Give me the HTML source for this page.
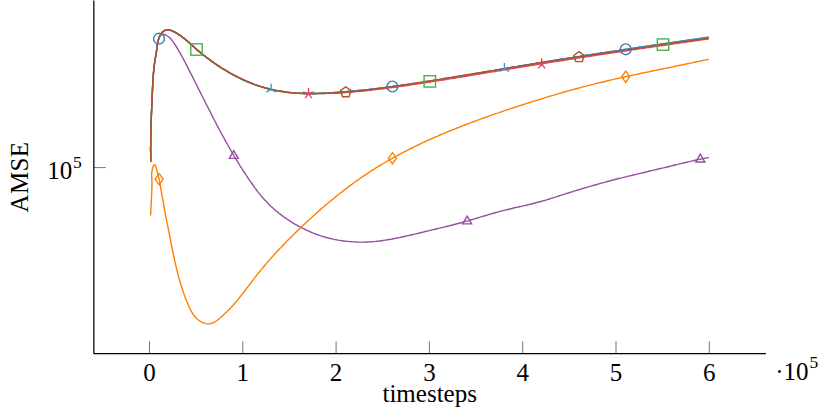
<!DOCTYPE html>
<html><head><meta charset="utf-8"><title>AMSE</title>
<style>
html,body{margin:0;padding:0;background:#fff;}
body{width:830px;height:417px;position:relative;overflow:hidden;font-family:"Liberation Serif",serif;color:#000;}
.t{position:absolute;font-size:25px;line-height:25px;white-space:nowrap;}
.c{transform:translateX(-50%);}
.sup{position:absolute;font-size:17.5px;line-height:17.5px;white-space:nowrap;}
</style></head><body>
<svg width="830" height="417" viewBox="0 0 830 417" style="position:absolute;left:0;top:0">
<line x1="149.5" y1="341.3" x2="149.5" y2="353.5" stroke="#505050" stroke-width="0.8"/>
<line x1="242.8" y1="341.3" x2="242.8" y2="353.5" stroke="#505050" stroke-width="0.8"/>
<line x1="336.1" y1="341.3" x2="336.1" y2="353.5" stroke="#505050" stroke-width="0.8"/>
<line x1="429.4" y1="341.3" x2="429.4" y2="353.5" stroke="#505050" stroke-width="0.8"/>
<line x1="522.7" y1="341.3" x2="522.7" y2="353.5" stroke="#505050" stroke-width="0.8"/>
<line x1="616.0" y1="341.3" x2="616.0" y2="353.5" stroke="#505050" stroke-width="0.8"/>
<line x1="709.3" y1="341.3" x2="709.3" y2="353.5" stroke="#505050" stroke-width="0.8"/>
<line x1="93.85" y1="167.6" x2="105.9" y2="167.6" stroke="#505050" stroke-width="0.8"/>
<path d="M93.85 0.5V353.5H765.9" fill="none" stroke="#000" stroke-width="1.25" stroke-linejoin="round"/>
<path d="M157.4 44.8L157.8 42.8L158.2 40.8L158.7 38.9L159.5 37.0L160.6 35.2L162.1 34.2L163.9 34.3L165.8 35.0L167.5 36.0L169.1 37.2L170.5 38.5L171.8 40.1L173.0 41.7L174.1 43.3L175.2 45.0L176.3 46.7L177.4 48.4L178.4 50.1L179.4 51.9L180.4 53.6L181.4 55.3L182.3 57.1L183.3 58.8L184.2 60.6L185.1 62.3L186.0 64.1L186.9 65.8L187.8 67.6L188.7 69.4L189.6 71.1L190.5 72.9L191.4 74.7L192.3 76.4L193.2 78.2L194.1 80.0L195.0 81.8L195.9 83.5L196.8 85.3L197.7 87.1L198.5 88.9L199.4 90.6L200.3 92.4L201.2 94.2L202.1 96.0L203.0 97.7L203.9 99.5L204.8 101.3L205.7 103.1L206.6 104.8L207.5 106.6L208.4 108.4L209.3 110.2L210.2 111.9L211.1 113.7L212.0 115.5L212.9 117.2L213.8 119.0L214.7 120.8L215.6 122.5L216.5 124.3L217.5 126.1L218.4 127.8L219.3 129.6L220.3 131.3L221.2 133.1L222.2 134.8L223.1 136.6L224.1 138.3L225.0 140.1L226.0 141.8L227.0 143.5L227.9 145.3L228.9 147.0L229.9 148.7L230.9 150.5L231.9 152.2L232.9 153.9L233.9 155.6L234.9 157.3L235.9 159.0L237.0 160.7L238.0 162.4L239.1 164.1L240.1 165.8L241.2 167.5L242.2 169.2L243.3 170.8L244.4 172.5L245.5 174.2L246.6 175.8L247.7 177.5L248.8 179.1L249.9 180.8L251.1 182.4L252.2 184.0L253.4 185.7L254.5 187.3L255.7 188.9L256.9 190.5L258.1 192.1L259.4 193.6L260.6 195.2L261.9 196.7L263.2 198.2L264.5 199.7L265.8 201.1L267.2 202.6L268.6 204.0L270.0 205.4L271.4 206.7L272.9 208.1L274.3 209.4L275.8 210.7L277.4 211.9L278.9 213.2L280.5 214.4L282.1 215.6L283.7 216.8L285.3 217.9L286.9 219.0L288.6 220.1L290.2 221.2L291.9 222.3L293.6 223.3L295.3 224.3L297.1 225.3L298.8 226.3L300.6 227.2L302.4 228.1L304.1 229.0L305.9 229.9L307.7 230.7L309.6 231.5L311.4 232.3L313.2 233.1L315.1 233.8L317.0 234.5L318.8 235.1L320.7 235.8L322.6 236.4L324.5 237.0L326.4 237.5L328.4 238.0L330.3 238.5L332.2 238.9L334.2 239.4L336.1 239.7L338.1 240.1L340.0 240.4L342.0 240.7L344.0 241.0L345.9 241.2L347.9 241.4L349.9 241.6L351.9 241.8L353.9 241.9L355.8 242.0L357.8 242.1L359.8 242.1L361.8 242.1L363.8 242.1L365.8 242.0L367.8 242.0L369.7 241.9L371.7 241.7L373.7 241.6L375.7 241.4L377.6 241.2L379.6 241.0L381.6 240.7L383.5 240.4L385.5 240.1L387.5 239.8L389.4 239.5L391.4 239.2L393.3 238.8L395.3 238.4L397.2 238.0L399.2 237.6L401.1 237.2L403.1 236.8L405.0 236.3L406.9 235.9L408.9 235.5L410.8 235.0L412.8 234.5L414.7 234.1L416.6 233.6L418.6 233.2L420.5 232.7L422.5 232.2L424.4 231.8L426.3 231.3L428.3 230.9L430.2 230.4L432.1 229.9L434.1 229.5L436.0 229.0L437.9 228.5L439.8 228.1L441.8 227.6L443.7 227.1L445.6 226.7L447.6 226.2L449.5 225.7L451.4 225.2L453.3 224.7L455.2 224.2L457.2 223.7L459.1 223.2L461.0 222.7L462.9 222.2L464.8 221.6L466.7 221.1L468.6 220.6L470.6 220.0L472.5 219.5L474.4 218.9L476.3 218.3L478.2 217.8L480.1 217.2L482.0 216.6L483.9 216.0L485.8 215.5L487.7 214.9L489.6 214.3L491.5 213.8L493.4 213.2L495.3 212.7L497.3 212.2L499.2 211.6L501.1 211.1L503.0 210.6L505.0 210.1L506.9 209.7L508.8 209.2L510.7 208.7L512.7 208.3L514.6 207.8L516.6 207.4L518.5 207.0L520.4 206.5L522.4 206.1L524.3 205.6L526.3 205.2L528.2 204.7L530.1 204.3L532.1 203.8L534.0 203.3L535.9 202.8L537.8 202.3L539.7 201.8L541.7 201.3L543.6 200.7L545.5 200.2L547.4 199.6L549.3 199.0L551.2 198.4L553.1 197.8L555.0 197.2L556.9 196.6L558.7 196.0L560.6 195.4L562.5 194.8L564.4 194.2L566.3 193.6L568.2 193.0L570.1 192.4L572.0 191.8L573.9 191.2L575.8 190.6L577.7 190.0L579.6 189.5L581.5 188.9L583.4 188.3L585.3 187.8L587.2 187.2L589.1 186.6L591.0 186.1L593.0 185.5L594.9 185.0L596.8 184.5L598.7 183.9L600.6 183.4L602.5 182.9L604.4 182.4L606.4 181.8L608.3 181.3L610.2 180.8L612.1 180.3L614.0 179.8L616.0 179.3L617.9 178.8L619.8 178.3L621.7 177.9L623.7 177.4L625.6 176.9L627.5 176.4L629.5 175.9L631.4 175.5L633.3 175.0L635.3 174.5L637.2 174.1L639.1 173.6L641.1 173.1L643.0 172.7L644.9 172.2L646.9 171.8L648.8 171.3L650.7 170.8L652.7 170.4L654.6 169.9L656.5 169.5L658.5 169.0L660.4 168.5L662.3 168.1L664.3 167.6L666.2 167.2L668.1 166.7L670.1 166.2L672.0 165.8L673.9 165.3L675.9 164.8L677.8 164.4L679.7 163.9L681.6 163.4L683.6 163.0L685.5 162.5L687.4 162.0L689.4 161.6L691.3 161.1L693.2 160.7L695.2 160.2L697.1 159.8L699.1 159.4L701.0 159.0L703.0 158.6L704.9 158.2L706.9 157.9L708.8 157.5" fill="none" stroke="#984ea3" stroke-width="1.4" stroke-linejoin="round"/>
<path d="M150.8 161.7L150.7 159.3L150.7 157.0L150.7 154.6L150.7 152.3L150.6 150.0L150.6 147.6L150.7 145.3L150.7 142.9L150.7 140.6L150.7 138.3L150.8 135.9L150.8 133.6L150.9 131.2L151.0 128.9L151.0 126.6L151.1 124.2L151.2 121.9L151.3 119.6L151.3 117.2L151.4 114.9L151.5 112.6L151.6 110.2L151.7 107.9L151.8 105.6L151.9 103.2L152.0 100.9L152.1 98.6L152.2 96.2L152.3 93.9L152.4 91.5L152.5 89.2L152.6 86.8L152.7 84.5L152.8 82.1L153.0 79.8L153.1 77.4L153.3 75.1L153.5 72.8L153.7 70.5L153.9 68.1L154.2 65.8L154.5 63.5L154.9 61.2L155.2 58.9L155.6 56.6L156.0 54.3L156.4 52.0L156.7 49.7L157.0 47.4L157.3 45.0L157.7 42.7L158.2 40.4L158.9 38.1L159.8 36.0L160.9 33.9L162.4 32.1L164.3 30.7L166.4 29.9L168.7 29.9L171.0 30.4L173.2 31.3L175.3 32.4L177.4 33.6L179.3 34.9L181.3 36.3L183.1 37.7L185.0 39.1L186.8 40.6L188.5 42.1L190.3 43.7L192.0 45.3L193.7 46.8L195.5 48.4L197.2 49.9L199.0 51.4L200.8 52.9L202.6 54.4L204.5 55.9L206.3 57.3L208.2 58.7L210.1 60.1L212.0 61.5L213.9 62.8L215.8 64.2L217.8 65.5L219.7 66.8L221.7 68.1L223.7 69.3L225.7 70.5L227.7 71.7L229.7 72.9L231.8 74.0L233.8 75.2L235.9 76.2L238.0 77.3L240.1 78.3L242.2 79.3L244.3 80.3L246.4 81.3L248.6 82.2L250.7 83.0L252.9 83.9L255.1 84.7L257.3 85.5L259.5 86.2L261.8 86.9L264.0 87.6L266.3 88.2L268.5 88.8L270.8 89.4L273.1 89.9L275.4 90.4L277.7 90.8L280.0 91.2L282.3 91.6L284.7 91.9L287.0 92.3L289.3 92.5L291.7 92.8L294.0 93.0L296.3 93.2L298.7 93.3L301.0 93.4L303.3 93.5L305.7 93.5L308.0 93.5L310.4 93.5L312.7 93.5L315.0 93.4L317.4 93.4L319.7 93.3L322.0 93.2L324.4 93.1L326.7 93.0L329.0 92.8L331.4 92.7L333.7 92.5L336.0 92.4L338.4 92.2L340.7 92.0L343.0 91.8L345.4 91.6L347.7 91.4L350.0 91.2L352.4 91.0L354.7 90.8L357.0 90.6L359.3 90.3L361.7 90.1L364.0 89.9L366.3 89.6L368.6 89.4L371.0 89.1L373.3 88.9L375.6 88.6L377.9 88.4L380.3 88.1L382.6 87.8L384.9 87.5L387.2 87.2L389.5 86.9L391.9 86.6L394.2 86.3L396.5 86.0L398.8 85.7L401.1 85.4L403.5 85.0L405.8 84.7L408.1 84.4L410.4 84.1L412.7 83.7L415.0 83.4L417.4 83.1L419.7 82.7L422.0 82.4L424.3 82.0L426.6 81.7L428.9 81.3L431.2 81.0L433.5 80.6L435.9 80.3L438.2 79.9L440.5 79.6L442.8 79.2L445.1 78.9L447.4 78.5L449.7 78.1L452.0 77.7L454.3 77.3L456.6 77.0L459.0 76.6L461.3 76.2L463.6 75.8L465.9 75.4L468.2 75.0L470.5 74.6L472.8 74.2L475.1 73.8L477.4 73.4L479.7 73.0L482.0 72.6L484.3 72.2L486.6 71.8L488.9 71.4L491.2 71.0L493.6 70.6L495.9 70.2L498.2 69.8L500.5 69.4L502.8 69.0L505.1 68.6L507.4 68.2L509.7 67.8L512.0 67.4L514.3 67.0L516.6 66.6L518.9 66.2L521.2 65.8L523.6 65.4L525.9 65.0L528.2 64.6L530.5 64.2L532.8 63.8L535.1 63.5L537.4 63.1L539.7 62.7L542.0 62.3L544.3 61.9L546.7 61.5L549.0 61.2L551.3 60.8L553.6 60.4L555.9 60.0L558.2 59.7L560.5 59.3L562.8 58.9L565.1 58.6L567.5 58.2L569.8 57.8L572.1 57.5L574.4 57.1L576.7 56.7L579.0 56.4L581.3 56.0L583.6 55.7L586.0 55.3L588.3 54.9L590.6 54.6L592.9 54.2L595.2 53.9L597.5 53.5L599.8 53.2L602.2 52.8L604.5 52.5L606.8 52.1L609.1 51.8L611.4 51.4L613.7 51.1L616.1 50.7L618.4 50.4L620.7 50.0L623.0 49.7L625.3 49.3L627.6 49.0L629.9 48.6L632.3 48.3L634.6 47.9L636.9 47.6L639.2 47.2L641.5 46.9L643.8 46.6L646.2 46.2L648.5 45.9L650.8 45.5L653.1 45.2L655.4 44.9L657.7 44.5L660.1 44.2L662.4 43.8L664.7 43.5L667.0 43.2L669.3 42.8L671.6 42.5L673.9 42.2L676.3 41.8L678.6 41.5L680.9 41.1L683.2 40.8L685.5 40.5L687.8 40.1L690.2 39.8L692.5 39.5L694.8 39.1L697.1 38.8L699.4 38.5L701.7 38.1L704.1 37.8L706.4 37.5L708.7 37.2" fill="none" stroke="#377eb8" stroke-width="1.4" stroke-linejoin="round"/>
<path d="M150.8 161.9L150.7 159.5L150.7 157.2L150.7 154.8L150.7 152.5L150.6 150.2L150.6 147.8L150.7 145.5L150.7 143.1L150.7 140.8L150.7 138.5L150.8 136.1L150.8 133.8L150.9 131.4L151.0 129.1L151.0 126.8L151.1 124.4L151.2 122.1L151.3 119.8L151.3 117.4L151.4 115.1L151.5 112.8L151.6 110.4L151.7 108.1L151.8 105.8L151.9 103.4L152.0 101.1L152.1 98.8L152.2 96.4L152.3 94.1L152.4 91.7L152.5 89.4L152.6 87.0L152.7 84.7L152.8 82.3L153.0 80.0L153.1 77.6L153.3 75.3L153.5 73.0L153.7 70.7L153.9 68.3L154.2 66.0L154.5 63.7L154.9 61.4L155.2 59.1L155.6 56.8L156.0 54.5L156.4 52.2L156.7 49.9L157.0 47.5L157.3 45.2L157.7 42.9L158.2 40.6L158.9 38.3L159.8 36.2L160.9 34.1L162.4 32.3L164.3 30.9L166.4 30.1L168.7 30.0L171.0 30.6L173.2 31.5L175.3 32.6L177.4 33.8L179.3 35.1L181.3 36.4L183.1 37.8L185.0 39.3L186.8 40.8L188.5 42.3L190.3 43.9L192.0 45.4L193.7 47.0L195.5 48.6L197.2 50.1L199.0 51.6L200.8 53.1L202.6 54.6L204.5 56.0L206.3 57.5L208.2 58.9L210.1 60.3L212.0 61.7L213.9 63.0L215.8 64.3L217.8 65.6L219.7 66.9L221.7 68.2L223.7 69.4L225.7 70.7L227.7 71.9L229.7 73.0L231.8 74.2L233.8 75.3L235.9 76.4L238.0 77.4L240.1 78.5L242.2 79.5L244.3 80.5L246.4 81.4L248.6 82.3L250.7 83.2L252.9 84.0L255.1 84.8L257.3 85.6L259.5 86.3L261.8 87.0L264.0 87.7L266.3 88.3L268.5 88.9L270.8 89.5L273.1 90.0L275.4 90.5L277.7 90.9L280.0 91.3L282.3 91.7L284.7 92.1L287.0 92.4L289.3 92.6L291.7 92.9L294.0 93.1L296.3 93.3L298.7 93.4L301.0 93.5L303.3 93.6L305.7 93.7L308.0 93.7L310.4 93.8L312.7 93.7L315.0 93.7L317.4 93.7L319.7 93.6L322.0 93.6L324.4 93.5L326.7 93.4L329.0 93.3L331.4 93.1L333.7 93.0L336.0 92.9L338.4 92.7L340.7 92.6L343.0 92.4L345.4 92.2L347.7 92.0L350.0 91.9L352.4 91.6L354.7 91.4L357.0 91.2L359.3 91.0L361.7 90.7L364.0 90.5L366.3 90.2L368.6 90.0L371.0 89.7L373.3 89.4L375.6 89.2L377.9 88.9L380.3 88.6L382.6 88.3L384.9 88.0L387.2 87.7L389.5 87.4L391.9 87.1L394.2 86.7L396.5 86.4L398.8 86.1L401.1 85.8L403.5 85.4L405.8 85.1L408.1 84.7L410.4 84.4L412.7 84.1L415.0 83.7L417.4 83.3L419.7 83.0L422.0 82.6L424.3 82.3L426.6 81.9L428.9 81.6L431.2 81.2L433.5 80.8L435.9 80.5L438.2 80.1L440.5 79.7L442.8 79.4L445.1 79.0L447.4 78.6L449.7 78.2L452.0 77.9L454.3 77.5L456.6 77.1L459.0 76.7L461.3 76.3L463.6 75.9L465.9 75.5L468.2 75.2L470.5 74.8L472.8 74.4L475.1 74.0L477.4 73.6L479.7 73.2L482.0 72.8L484.3 72.4L486.6 72.0L488.9 71.7L491.2 71.3L493.6 70.9L495.9 70.5L498.2 70.1L500.5 69.7L502.8 69.3L505.1 68.9L507.4 68.5L509.7 68.2L512.0 67.8L514.3 67.4L516.6 67.0L518.9 66.6L521.2 66.2L523.6 65.9L525.9 65.5L528.2 65.1L530.5 64.7L532.8 64.4L535.1 64.0L537.4 63.6L539.7 63.2L542.0 62.9L544.3 62.5L546.7 62.1L549.0 61.7L551.3 61.4L553.6 61.0L555.9 60.6L558.2 60.3L560.5 59.9L562.8 59.6L565.1 59.2L567.5 58.8L569.8 58.5L572.1 58.1L574.4 57.8L576.7 57.4L579.0 57.0L581.3 56.7L583.6 56.3L586.0 56.0L588.3 55.6L590.6 55.3L592.9 54.9L595.2 54.6L597.5 54.2L599.8 53.9L602.2 53.5L604.5 53.2L606.8 52.8L609.1 52.5L611.4 52.1L613.7 51.8L616.1 51.4L618.4 51.1L620.7 50.8L623.0 50.4L625.3 50.1L627.6 49.7L629.9 49.4L632.3 49.0L634.6 48.7L636.9 48.4L639.2 48.0L641.5 47.7L643.8 47.3L646.2 47.0L648.5 46.7L650.8 46.3L653.1 46.0L655.4 45.7L657.7 45.3L660.1 45.0L662.4 44.7L664.7 44.3L667.0 44.0L669.3 43.7L671.6 43.3L673.9 43.0L676.3 42.7L678.6 42.3L680.9 42.0L683.2 41.7L685.5 41.3L687.8 41.0L690.2 40.7L692.5 40.4L694.8 40.0L697.1 39.7L699.4 39.4L701.7 39.0L704.1 38.7L706.4 38.4L708.7 38.1" fill="none" stroke="#4daf4a" stroke-width="1.4" stroke-linejoin="round"/>
<path d="M150.8 161.7L150.7 159.3L150.7 157.0L150.7 154.6L150.7 152.3L150.6 150.0L150.6 147.6L150.7 145.3L150.7 142.9L150.7 140.6L150.7 138.3L150.8 135.9L150.8 133.6L150.9 131.2L151.0 128.9L151.0 126.6L151.1 124.2L151.2 121.9L151.3 119.6L151.3 117.2L151.4 114.9L151.5 112.6L151.6 110.2L151.7 107.9L151.8 105.6L151.9 103.2L152.0 100.9L152.1 98.6L152.2 96.2L152.3 93.9L152.4 91.5L152.5 89.2L152.6 86.8L152.7 84.5L152.8 82.1L153.0 79.8L153.1 77.4L153.3 75.1L153.5 72.8L153.7 70.5L153.9 68.1L154.2 65.8L154.5 63.5L154.9 61.2L155.2 58.9L155.6 56.6L156.0 54.3L156.4 52.0L156.7 49.7L157.0 47.4L157.3 45.0L157.7 42.7L158.2 40.4L158.9 38.1L159.8 36.0L160.9 33.9L162.4 32.1L164.3 30.7L166.4 29.9L168.7 29.9L171.0 30.4L173.2 31.3L175.3 32.4L177.4 33.6L179.3 34.9L181.3 36.3L183.1 37.7L185.0 39.1L186.8 40.6L188.5 42.1L190.3 43.7L192.0 45.3L193.7 46.8L195.5 48.4L197.2 49.9L199.0 51.4L200.8 52.9L202.6 54.4L204.5 55.9L206.3 57.3L208.2 58.7L210.1 60.1L212.0 61.5L213.9 62.8L215.8 64.2L217.8 65.5L219.7 66.8L221.7 68.1L223.7 69.3L225.7 70.5L227.7 71.7L229.7 72.9L231.8 74.0L233.8 75.2L235.9 76.2L238.0 77.3L240.1 78.3L242.2 79.3L244.3 80.3L246.4 81.3L248.6 82.2L250.7 83.0L252.9 83.9L255.1 84.7L257.3 85.5L259.5 86.2L261.8 86.9L264.0 87.6L266.3 88.2L268.5 88.8L270.8 89.4L273.1 89.9L275.4 90.4L277.7 90.8L280.0 91.2L282.3 91.6L284.7 91.9L287.0 92.3L289.3 92.5L291.7 92.8L294.0 93.0L296.3 93.2L298.7 93.3L301.0 93.4L303.3 93.5L305.7 93.5L308.0 93.6L310.4 93.5L312.7 93.5L315.0 93.5L317.4 93.4L319.7 93.3L322.0 93.2L324.4 93.1L326.7 93.0L329.0 92.9L331.4 92.7L333.7 92.6L336.0 92.4L338.4 92.3L340.7 92.1L343.0 91.9L345.4 91.7L347.7 91.5L350.0 91.3L352.4 91.1L354.7 90.9L357.0 90.6L359.3 90.4L361.7 90.2L364.0 90.0L366.3 89.7L368.6 89.5L371.0 89.2L373.3 89.0L375.6 88.7L377.9 88.4L380.3 88.1L382.6 87.9L384.9 87.6L387.2 87.3L389.5 87.0L391.9 86.7L394.2 86.4L396.5 86.1L398.8 85.7L401.1 85.4L403.5 85.1L405.8 84.8L408.1 84.4L410.4 84.1L412.7 83.8L415.0 83.4L417.4 83.1L419.7 82.7L422.0 82.4L424.3 82.1L426.6 81.7L428.9 81.4L431.2 81.0L433.5 80.6L435.9 80.3L438.2 79.9L440.5 79.6L442.8 79.2L445.1 78.9L447.4 78.5L449.7 78.1L452.0 77.7L454.3 77.4L456.6 77.0L459.0 76.6L461.3 76.2L463.6 75.8L465.9 75.4L468.2 75.0L470.5 74.6L472.8 74.2L475.1 73.8L477.4 73.4L479.7 73.0L482.0 72.6L484.3 72.2L486.6 71.8L488.9 71.4L491.2 71.0L493.6 70.6L495.9 70.2L498.2 69.8L500.5 69.4L502.8 69.0L505.1 68.6L507.4 68.2L509.7 67.8L512.0 67.4L514.3 67.0L516.6 66.6L518.9 66.3L521.2 65.9L523.6 65.5L525.9 65.1L528.2 64.7L530.5 64.3L532.8 63.9L535.1 63.5L537.4 63.2L539.7 62.8L542.0 62.4L544.3 62.0L546.7 61.6L549.0 61.3L551.3 60.9L553.6 60.5L555.9 60.1L558.2 59.8L560.5 59.4L562.8 59.0L565.1 58.7L567.5 58.3L569.8 57.9L572.1 57.6L574.4 57.2L576.7 56.8L579.0 56.5L581.3 56.1L583.6 55.8L586.0 55.4L588.3 55.0L590.6 54.7L592.9 54.3L595.2 54.0L597.5 53.6L599.8 53.3L602.2 52.9L604.5 52.6L606.8 52.2L609.1 51.9L611.4 51.5L613.7 51.2L616.1 50.8L618.4 50.5L620.7 50.1L623.0 49.8L625.3 49.4L627.6 49.1L629.9 48.7L632.3 48.4L634.6 48.0L636.9 47.7L639.2 47.3L641.5 47.0L643.8 46.7L646.2 46.3L648.5 46.0L650.8 45.6L653.1 45.3L655.4 45.0L657.7 44.6L660.1 44.3L662.4 43.9L664.7 43.6L667.0 43.3L669.3 42.9L671.6 42.6L673.9 42.3L676.3 41.9L678.6 41.6L680.9 41.2L683.2 40.9L685.5 40.6L687.8 40.2L690.2 39.9L692.5 39.6L694.8 39.2L697.1 38.9L699.4 38.6L701.7 38.2L704.1 37.9L706.4 37.6L708.7 37.3" fill="none" stroke="#2f9bd7" stroke-width="1.4" stroke-linejoin="round"/>
<path d="M150.8 161.7L150.7 159.3L150.7 157.0L150.7 154.6L150.7 152.3L150.6 150.0L150.6 147.6L150.7 145.3L150.7 142.9L150.7 140.6L150.7 138.3L150.8 135.9L150.8 133.6L150.9 131.2L151.0 128.9L151.0 126.6L151.1 124.2L151.2 121.9L151.3 119.6L151.3 117.2L151.4 114.9L151.5 112.6L151.6 110.2L151.7 107.9L151.8 105.6L151.9 103.2L152.0 100.9L152.1 98.5L152.2 96.2L152.3 93.9L152.4 91.5L152.5 89.2L152.6 86.8L152.7 84.5L152.8 82.1L153.0 79.8L153.1 77.4L153.3 75.1L153.5 72.8L153.7 70.4L153.9 68.1L154.2 65.8L154.5 63.5L154.9 61.2L155.2 58.9L155.6 56.6L156.0 54.3L156.4 52.0L156.7 49.7L157.0 47.3L157.3 45.0L157.7 42.7L158.2 40.4L158.9 38.1L159.8 36.0L160.9 33.9L162.4 32.0L164.3 30.6L166.4 29.9L168.7 29.8L171.0 30.4L173.2 31.3L175.3 32.4L177.4 33.6L179.3 34.9L181.3 36.2L183.1 37.6L185.0 39.1L186.8 40.6L188.5 42.1L190.3 43.6L192.0 45.2L193.7 46.8L195.5 48.3L197.2 49.9L199.0 51.4L200.8 52.9L202.6 54.4L204.5 55.8L206.3 57.2L208.2 58.6L210.1 60.0L212.0 61.4L213.9 62.8L215.8 64.1L217.8 65.4L219.7 66.7L221.7 68.0L223.7 69.2L225.7 70.4L227.7 71.6L229.7 72.8L231.8 73.9L233.8 75.0L235.9 76.1L238.0 77.2L240.1 78.2L242.2 79.2L244.3 80.2L246.4 81.1L248.6 82.0L250.7 82.9L252.9 83.8L255.1 84.6L257.3 85.3L259.5 86.1L261.8 86.8L264.0 87.4L266.3 88.1L268.5 88.6L270.8 89.2L273.1 89.7L275.4 90.2L277.7 90.6L280.0 91.0L282.3 91.4L284.7 91.8L287.0 92.1L289.3 92.4L291.7 92.6L294.0 92.8L296.3 93.0L298.7 93.1L301.0 93.3L303.3 93.4L305.7 93.5L308.0 93.5L310.4 93.6L312.7 93.6L315.0 93.6L317.4 93.6L319.7 93.6L322.0 93.6L324.4 93.5L326.7 93.4L329.0 93.4L331.4 93.3L333.7 93.2L336.0 93.1L338.4 93.0L340.7 92.8L343.0 92.7L345.4 92.6L347.7 92.4L350.0 92.3L352.4 92.1L354.7 91.8L357.0 91.6L359.3 91.4L361.7 91.2L364.0 90.9L366.3 90.7L368.6 90.4L371.0 90.2L373.3 89.9L375.6 89.6L377.9 89.4L380.3 89.1L382.6 88.8L384.9 88.5L387.2 88.2L389.5 87.9L391.9 87.6L394.2 87.3L396.5 87.0L398.8 86.6L401.1 86.3L403.5 86.0L405.8 85.7L408.1 85.3L410.4 85.0L412.7 84.6L415.0 84.3L417.4 84.0L419.7 83.6L422.0 83.3L424.3 82.9L426.6 82.6L428.9 82.2L431.2 81.8L433.5 81.5L435.9 81.1L438.2 80.8L440.5 80.4L442.8 80.0L445.1 79.7L447.4 79.3L449.7 78.9L452.0 78.6L454.3 78.2L456.6 77.8L459.0 77.4L461.3 77.0L463.6 76.7L465.9 76.3L468.2 75.9L470.5 75.5L472.8 75.1L475.1 74.7L477.4 74.4L479.7 74.0L482.0 73.6L484.3 73.2L486.6 72.8L488.9 72.4L491.2 72.0L493.6 71.7L495.9 71.3L498.2 70.9L500.5 70.5L502.8 70.1L505.1 69.7L507.4 69.4L509.7 69.0L512.0 68.6L514.3 68.2L516.6 67.8L518.9 67.5L521.2 67.1L523.6 66.7L525.9 66.3L528.2 66.0L530.5 65.6L532.8 65.2L535.1 64.8L537.4 64.5L539.7 64.1L542.0 63.7L544.3 63.4L546.7 63.0L549.0 62.6L551.3 62.3L553.6 61.9L555.9 61.5L558.2 61.2L560.5 60.8L562.8 60.5L565.1 60.1L567.5 59.7L569.8 59.4L572.1 59.0L574.4 58.7L576.7 58.3L579.0 57.9L581.3 57.6L583.6 57.2L586.0 56.9L588.3 56.5L590.6 56.2L592.9 55.8L595.2 55.5L597.5 55.1L599.8 54.8L602.2 54.4L604.5 54.1L606.8 53.7L609.1 53.4L611.4 53.0L613.7 52.7L616.1 52.3L618.4 52.0L620.7 51.7L623.0 51.3L625.3 51.0L627.6 50.6L629.9 50.3L632.3 49.9L634.6 49.6L636.9 49.3L639.2 48.9L641.5 48.6L643.8 48.2L646.2 47.9L648.5 47.6L650.8 47.2L653.1 46.9L655.4 46.6L657.7 46.2L660.1 45.9L662.4 45.6L664.7 45.2L667.0 44.9L669.3 44.6L671.6 44.2L673.9 43.9L676.3 43.6L678.6 43.2L680.9 42.9L683.2 42.6L685.5 42.2L687.8 41.9L690.2 41.6L692.5 41.3L694.8 40.9L697.1 40.6L699.4 40.3L701.7 39.9L704.1 39.6L706.4 39.3L708.7 39.0" fill="none" stroke="#e6475f" stroke-width="1.4" stroke-linejoin="round"/>
<path d="M150.8 161.7L150.7 159.3L150.7 157.0L150.7 154.6L150.7 152.3L150.6 150.0L150.6 147.6L150.7 145.3L150.7 142.9L150.7 140.6L150.7 138.3L150.8 135.9L150.8 133.6L150.9 131.2L151.0 128.9L151.0 126.6L151.1 124.2L151.2 121.9L151.3 119.6L151.3 117.2L151.4 114.9L151.5 112.6L151.6 110.2L151.7 107.9L151.8 105.6L151.9 103.2L152.0 100.9L152.1 98.5L152.2 96.2L152.3 93.9L152.4 91.5L152.5 89.2L152.6 86.8L152.7 84.5L152.8 82.1L153.0 79.8L153.1 77.4L153.3 75.1L153.5 72.8L153.7 70.4L153.9 68.1L154.2 65.8L154.5 63.5L154.9 61.2L155.2 58.9L155.6 56.6L156.0 54.3L156.4 52.0L156.7 49.7L157.0 47.3L157.3 45.0L157.7 42.7L158.2 40.4L158.9 38.1L159.8 36.0L160.9 33.9L162.4 32.0L164.3 30.6L166.4 29.9L168.7 29.8L171.0 30.4L173.2 31.3L175.3 32.4L177.4 33.6L179.3 34.9L181.3 36.2L183.1 37.6L185.0 39.1L186.8 40.6L188.5 42.1L190.3 43.6L192.0 45.2L193.7 46.8L195.5 48.3L197.2 49.9L199.0 51.4L200.8 52.9L202.6 54.4L204.5 55.8L206.3 57.2L208.2 58.6L210.1 60.0L212.0 61.4L213.9 62.8L215.8 64.1L217.8 65.4L219.7 66.7L221.7 68.0L223.7 69.2L225.7 70.4L227.7 71.6L229.7 72.8L231.8 73.9L233.8 75.0L235.9 76.1L238.0 77.2L240.1 78.2L242.2 79.2L244.3 80.2L246.4 81.1L248.6 82.0L250.7 82.9L252.9 83.8L255.1 84.6L257.3 85.3L259.5 86.1L261.8 86.8L264.0 87.4L266.3 88.1L268.5 88.6L270.8 89.2L273.1 89.7L275.4 90.2L277.7 90.6L280.0 91.0L282.3 91.4L284.7 91.8L287.0 92.1L289.3 92.4L291.7 92.6L294.0 92.8L296.3 93.0L298.7 93.1L301.0 93.2L303.3 93.3L305.7 93.4L308.0 93.5L310.4 93.5L312.7 93.5L315.0 93.5L317.4 93.4L319.7 93.4L322.0 93.3L324.4 93.2L326.7 93.1L329.0 93.0L331.4 92.9L333.7 92.8L336.0 92.7L338.4 92.5L340.7 92.4L343.0 92.2L345.4 92.0L347.7 91.8L350.0 91.7L352.4 91.4L354.7 91.2L357.0 91.0L359.3 90.7L361.7 90.5L364.0 90.2L366.3 90.0L368.6 89.7L371.0 89.4L373.3 89.1L375.6 88.8L377.9 88.5L380.3 88.2L382.6 87.9L384.9 87.6L387.2 87.3L389.5 87.0L391.9 86.7L394.2 86.3L396.5 86.0L398.8 85.6L401.1 85.3L403.5 85.0L405.8 84.6L408.1 84.3L410.4 83.9L412.7 83.5L415.0 83.2L417.4 82.8L419.7 82.4L422.0 82.1L424.3 81.7L426.6 81.3L428.9 81.0L431.2 80.6L433.5 80.2L435.9 79.8L438.2 79.5L440.5 79.1L442.8 78.7L445.1 78.3L447.4 77.9L449.7 77.5L452.0 77.2L454.3 76.8L456.6 76.4L459.0 76.0L461.3 75.7L463.6 75.3L465.9 74.9L468.2 74.5L470.5 74.2L472.8 73.8L475.1 73.4L477.4 73.0L479.7 72.6L482.0 72.3L484.3 71.9L486.6 71.5L488.9 71.1L491.2 70.7L493.6 70.4L495.9 70.0L498.2 69.6L500.5 69.2L502.8 68.8L505.1 68.5L507.4 68.1L509.7 67.7L512.0 67.3L514.3 66.9L516.6 66.6L518.9 66.2L521.2 65.8L523.6 65.5L525.9 65.1L528.2 64.7L530.5 64.4L532.8 64.0L535.1 63.6L537.4 63.3L539.7 62.9L542.0 62.5L544.3 62.2L546.7 61.8L549.0 61.4L551.3 61.1L553.6 60.7L555.9 60.4L558.2 60.0L560.5 59.6L562.8 59.3L565.1 58.9L567.5 58.6L569.8 58.2L572.1 57.9L574.4 57.5L576.7 57.2L579.0 56.8L581.3 56.5L583.6 56.1L586.0 55.8L588.3 55.4L590.6 55.1L592.9 54.7L595.2 54.4L597.5 54.0L599.8 53.7L602.2 53.3L604.5 53.0L606.8 52.6L609.1 52.3L611.4 52.0L613.7 51.6L616.1 51.3L618.4 50.9L620.7 50.6L623.0 50.3L625.3 49.9L627.6 49.6L629.9 49.2L632.3 48.9L634.6 48.6L636.9 48.2L639.2 47.9L641.5 47.6L643.8 47.2L646.2 46.9L648.5 46.6L650.8 46.2L653.1 45.9L655.4 45.6L657.7 45.2L660.1 44.9L662.4 44.6L664.7 44.3L667.0 43.9L669.3 43.6L671.6 43.3L673.9 42.9L676.3 42.6L678.6 42.3L680.9 42.0L683.2 41.6L685.5 41.3L687.8 41.0L690.2 40.7L692.5 40.3L694.8 40.0L697.1 39.7L699.4 39.4L701.7 39.0L704.1 38.7L706.4 38.4L708.7 38.1" fill="none" stroke="#a65628" stroke-width="1.4" stroke-linejoin="round"/>
<path d="M150.6 215.5L150.7 213.5L150.8 211.4L150.9 209.4L151.0 207.4L151.1 205.4L151.2 203.4L151.3 201.3L151.4 199.3L151.5 197.3L151.6 195.3L151.7 193.3L151.8 191.2L151.8 189.2L151.9 187.1L151.9 185.1L152.0 183.1L151.9 181.1L151.8 179.1L151.7 177.2L151.7 175.2L151.7 173.2L151.9 171.2L152.4 169.0L153.1 166.7L154.1 165.0L155.0 164.7L155.7 166.1L156.4 168.4L157.0 171.1L157.6 173.5L158.1 175.6L158.7 177.4L159.2 179.1L159.6 181.0L159.9 182.9L160.2 185.0L160.5 187.0L160.9 189.1L161.2 191.1L161.6 193.1L161.9 195.1L162.3 197.1L162.7 199.1L163.1 201.0L163.4 203.0L163.8 205.0L164.1 207.0L164.5 209.0L164.8 211.0L165.2 213.0L165.5 215.0L165.9 217.0L166.3 219.0L166.7 221.0L167.1 223.0L167.5 224.9L167.9 226.9L168.3 228.9L168.7 230.9L169.1 232.9L169.5 234.9L169.9 236.9L170.3 238.8L170.7 240.8L171.1 242.8L171.4 244.8L171.8 246.8L172.2 248.8L172.6 250.8L173.0 252.8L173.5 254.7L173.9 256.7L174.3 258.7L174.7 260.7L175.2 262.7L175.6 264.6L176.1 266.6L176.5 268.6L177.0 270.5L177.5 272.5L178.0 274.5L178.5 276.4L179.1 278.4L179.6 280.3L180.2 282.3L180.8 284.2L181.4 286.1L182.0 288.1L182.6 290.0L183.2 291.9L183.9 293.8L184.6 295.7L185.3 297.6L186.0 299.5L186.8 301.4L187.6 303.3L188.4 305.2L189.2 307.0L190.1 308.9L191.0 310.7L192.0 312.5L193.1 314.1L194.2 315.8L195.5 317.3L196.9 318.7L198.5 320.0L200.1 321.2L202.0 322.2L203.9 323.1L205.9 323.6L207.9 323.9L209.8 323.7L211.7 323.3L213.5 322.6L215.3 321.6L217.0 320.5L218.6 319.2L220.3 317.8L221.8 316.4L223.4 315.0L224.9 313.6L226.4 312.2L227.8 310.8L229.2 309.4L230.6 308.0L232.0 306.5L233.3 305.0L234.6 303.5L235.9 302.0L237.2 300.5L238.5 298.9L239.7 297.3L241.0 295.8L242.2 294.2L243.5 292.6L244.7 291.0L245.9 289.4L247.1 287.7L248.4 286.1L249.6 284.5L250.8 282.9L252.0 281.3L253.3 279.7L254.5 278.1L255.8 276.5L257.0 274.9L258.3 273.3L259.6 271.7L260.8 270.1L262.1 268.6L263.4 267.0L264.7 265.5L266.1 263.9L267.4 262.4L268.7 260.9L270.0 259.3L271.4 257.8L272.7 256.3L274.1 254.8L275.5 253.3L276.8 251.8L278.2 250.3L279.6 248.8L281.0 247.4L282.4 245.9L283.8 244.4L285.2 243.0L286.6 241.5L288.0 240.1L289.5 238.7L290.9 237.2L292.3 235.8L293.8 234.4L295.2 233.0L296.7 231.5L298.1 230.1L299.6 228.7L301.0 227.3L302.5 225.9L304.0 224.5L305.4 223.2L306.9 221.8L308.4 220.4L309.9 219.0L311.4 217.7L312.9 216.3L314.4 215.0L315.9 213.6L317.4 212.3L318.9 210.9L320.4 209.6L321.9 208.3L323.5 207.0L325.0 205.6L326.6 204.3L328.1 203.0L329.7 201.7L331.2 200.4L332.8 199.2L334.4 197.9L335.9 196.6L337.5 195.3L339.1 194.1L340.7 192.8L342.3 191.6L343.9 190.3L345.5 189.1L347.1 187.9L348.7 186.6L350.4 185.4L352.0 184.2L353.6 183.0L355.3 181.8L356.9 180.7L358.6 179.5L360.3 178.3L361.9 177.2L363.6 176.0L365.3 174.9L367.0 173.8L368.6 172.6L370.3 171.5L372.0 170.4L373.8 169.3L375.5 168.2L377.2 167.2L378.9 166.1L380.6 165.1L382.4 164.0L384.1 163.0L385.9 162.0L387.6 160.9L389.4 159.9L391.1 158.9L392.9 157.9L394.7 157.0L396.4 156.0L398.2 155.0L400.0 154.1L401.8 153.1L403.6 152.2L405.4 151.3L407.2 150.3L409.0 149.4L410.8 148.5L412.6 147.6L414.4 146.7L416.2 145.9L418.1 145.0L419.9 144.1L421.7 143.2L423.6 142.4L425.4 141.5L427.2 140.7L429.1 139.8L430.9 139.0L432.8 138.2L434.6 137.4L436.5 136.6L438.3 135.8L440.2 135.0L442.0 134.2L443.9 133.4L445.8 132.6L447.6 131.8L449.5 131.0L451.4 130.3L453.3 129.5L455.1 128.8L457.0 128.0L458.9 127.3L460.8 126.5L462.7 125.8L464.6 125.0L466.5 124.3L468.4 123.6L470.3 122.9L472.2 122.2L474.0 121.5L476.0 120.8L477.9 120.1L479.8 119.4L481.7 118.7L483.6 118.0L485.5 117.3L487.4 116.6L489.3 115.9L491.2 115.3L493.1 114.6L495.0 113.9L497.0 113.3L498.9 112.6L500.8 112.0L502.7 111.3L504.6 110.7L506.6 110.0L508.5 109.4L510.4 108.7L512.3 108.1L514.3 107.5L516.2 106.8L518.1 106.2L520.0 105.6L522.0 105.0L523.9 104.3L525.8 103.7L527.8 103.1L529.7 102.5L531.6 101.9L533.5 101.3L535.5 100.7L537.4 100.1L539.3 99.5L541.3 98.9L543.2 98.3L545.1 97.7L547.1 97.1L549.0 96.5L551.0 95.9L552.9 95.4L554.8 94.8L556.8 94.2L558.7 93.6L560.7 93.1L562.6 92.5L564.5 92.0L566.5 91.4L568.4 90.9L570.4 90.3L572.3 89.8L574.3 89.2L576.2 88.7L578.2 88.2L580.1 87.7L582.1 87.1L584.0 86.6L586.0 86.1L588.0 85.6L589.9 85.1L591.9 84.6L593.8 84.1L595.8 83.6L597.8 83.1L599.7 82.7L601.7 82.2L603.7 81.7L605.7 81.2L607.6 80.8L609.6 80.3L611.6 79.9L613.5 79.4L615.5 78.9L617.5 78.5L619.5 78.1L621.5 77.6L623.4 77.2L625.4 76.7L627.4 76.3L629.4 75.9L631.4 75.4L633.3 75.0L635.3 74.6L637.3 74.2L639.3 73.7L641.3 73.3L643.3 72.9L645.3 72.5L647.2 72.1L649.2 71.7L651.2 71.3L653.2 70.8L655.2 70.4L657.2 70.0L659.2 69.6L661.1 69.2L663.1 68.8L665.1 68.4L667.1 68.0L669.1 67.6L671.1 67.2L673.1 66.8L675.0 66.3L677.0 65.9L679.0 65.5L681.0 65.1L683.0 64.7L685.0 64.3L686.9 63.9L688.9 63.5L690.9 63.1L692.9 62.6L694.9 62.2L696.8 61.8L698.8 61.4L700.8 61.0L702.8 60.5L704.7 60.1L706.7 59.7L708.7 59.2" fill="none" stroke="#ff7f00" stroke-width="1.4" stroke-linejoin="round"/>
<circle cx="159.0" cy="38.7" r="5.4" fill="none" stroke="#377eb8" stroke-width="1.4"/>
<circle cx="392.4" cy="86.5" r="5.4" fill="none" stroke="#377eb8" stroke-width="1.4"/>
<circle cx="625.7" cy="49.3" r="5.4" fill="none" stroke="#377eb8" stroke-width="1.4"/>
<rect x="190.8" y="43.8" width="11.4" height="11.4" fill="none" stroke="#4daf4a" stroke-width="1.4"/>
<rect x="424.1" y="75.7" width="11.4" height="11.4" fill="none" stroke="#4daf4a" stroke-width="1.4"/>
<rect x="657.3" y="38.9" width="11.4" height="11.4" fill="none" stroke="#4daf4a" stroke-width="1.4"/>
<path d="M271.1 89.4L271.1 83.8M271.1 89.4L266.3 92.2M271.1 89.4L276.0 92.2" fill="none" stroke="#2f9bd7" stroke-width="1.4"/>
<path d="M504.4 68.7L504.4 63.1M504.4 68.7L499.5 71.5M504.4 68.7L509.2 71.5" fill="none" stroke="#2f9bd7" stroke-width="1.4"/>
<path d="M308.5 93.6L308.5 88.0M308.5 93.6L303.1 91.8M308.5 93.6L305.2 98.1M308.5 93.6L311.8 98.1M308.5 93.6L313.8 91.8" fill="none" stroke="#e6475f" stroke-width="1.4"/>
<path d="M541.7 63.8L541.7 58.2M541.7 63.8L536.4 62.1M541.7 63.8L538.4 68.3M541.7 63.8L545.0 68.3M541.7 63.8L547.0 62.1" fill="none" stroke="#e6475f" stroke-width="1.4"/>
<polygon points="345.8,86.8 340.5,90.6 342.5,96.7 349.0,96.7 351.0,90.6" fill="none" stroke="#a65628" stroke-width="1.4"/>
<polygon points="579.0,51.6 573.8,55.4 575.8,61.6 582.3,61.6 584.3,55.4" fill="none" stroke="#a65628" stroke-width="1.4"/>
<polygon points="233.8,150.6 229.3,158.4 238.3,158.4" fill="none" stroke="#984ea3" stroke-width="1.4"/>
<polygon points="467.1,216.1 462.6,223.9 471.6,223.9" fill="none" stroke="#984ea3" stroke-width="1.4"/>
<polygon points="700.3,154.2 695.8,162.0 704.8,162.0" fill="none" stroke="#984ea3" stroke-width="1.4"/>
<polygon points="159.2,173.7 163.2,179.3 159.2,184.9 155.2,179.3" fill="none" stroke="#ff7f00" stroke-width="1.4"/>
<polygon points="392.4,152.6 396.4,158.2 392.4,163.8 388.4,158.2" fill="none" stroke="#ff7f00" stroke-width="1.4"/>
<polygon points="625.7,71.1 629.7,76.7 625.7,82.3 621.7,76.7" fill="none" stroke="#ff7f00" stroke-width="1.4"/>
</svg>
<div class="t c" style="left:149.5px;top:359.7px">0</div>
<div class="t c" style="left:242.8px;top:359.7px">1</div>
<div class="t c" style="left:336.1px;top:359.7px">2</div>
<div class="t c" style="left:429.4px;top:359.7px">3</div>
<div class="t c" style="left:522.7px;top:359.7px">4</div>
<div class="t c" style="left:616.0px;top:359.7px">5</div>
<div class="t c" style="left:709.3px;top:359.7px">6</div>
<div class="t c" style="left:429.7px;top:380.5px">timesteps</div>
<div class="t" style="left:775.2px;top:358.6px">&middot;10</div>
<div class="sup" style="left:809.5px;top:354.4px">5</div>
<div class="t" style="left:47.3px;top:157.7px">10</div>
<div class="sup" style="left:73px;top:154.3px">5</div>
<div class="t" style="left:19px;top:176.6px;letter-spacing:0.4px;transform:translate(-50%,-50%) rotate(-90deg);">AMSE</div>
</body></html>
